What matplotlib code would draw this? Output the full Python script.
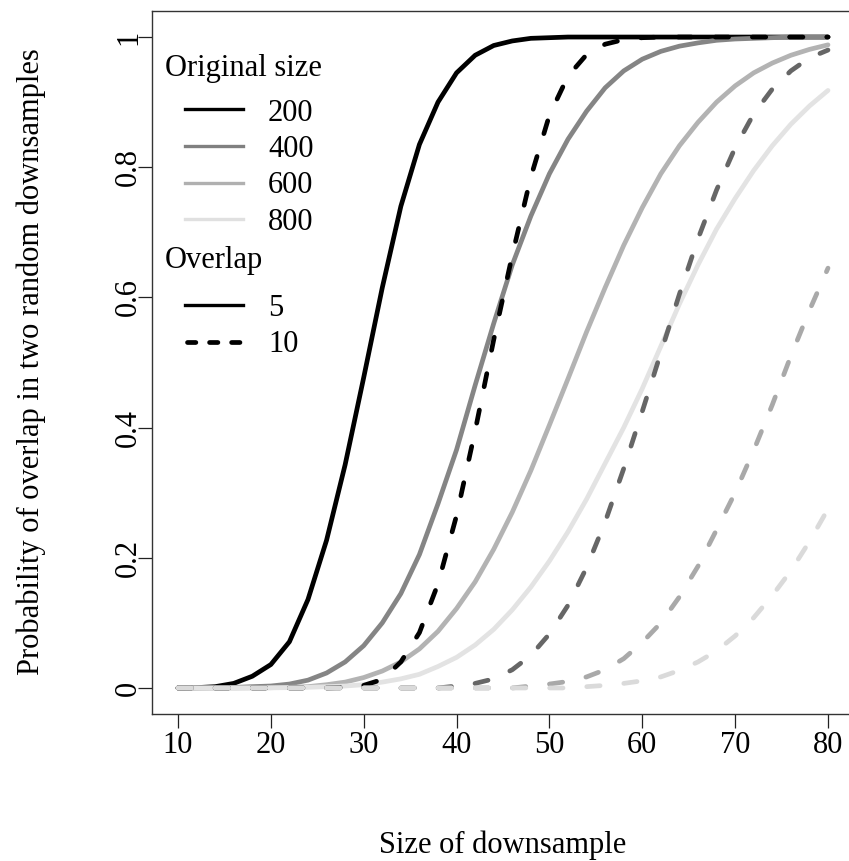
import matplotlib
matplotlib.use('Agg')
import matplotlib.pyplot as plt
from matplotlib.lines import Line2D

plt.rcParams['font.family'] = ['Liberation Serif', 'DejaVu Serif']

# Size of downsample (x)
sizes = list(range(10, 81, 2))
orig_sizes = ['200', '400', '600', '800']
overlap_labels = ['5', '10']

# Overlap >= 5 (solid)
p_200_k5 = [0.0, 0.0005, 0.002, 0.007, 0.018, 0.036, 0.071, 0.136, 0.227, 0.343,
            0.477, 0.615, 0.74, 0.835, 0.90, 0.945, 0.972, 0.987, 0.994, 0.998,
            0.999, 1.0, 1.0, 1.0, 1.0, 1.0, 1.0, 1.0, 1.0, 1.0,
            1.0, 1.0, 1.0, 1.0, 1.0, 1.0]
p_400_k5 = [0.0, 0.0, 0.0003, 0.0008, 0.002, 0.003, 0.006, 0.012, 0.023, 0.04,
            0.065, 0.10, 0.145, 0.205, 0.283, 0.366, 0.465, 0.56, 0.65, 0.725,
            0.79, 0.843, 0.886, 0.922, 0.948, 0.966, 0.978, 0.986, 0.991, 0.995,
            0.997, 0.998, 0.999, 1.0, 1.0, 1.0]
p_600_k5 = [0.0, 0.0, 0.0, 0.0, 0.0002, 0.0004, 0.001, 0.002, 0.005, 0.009,
            0.016, 0.026, 0.04, 0.06, 0.087, 0.122, 0.163, 0.213, 0.27, 0.334,
            0.404, 0.475, 0.547, 0.615, 0.68, 0.738, 0.79, 0.833, 0.869, 0.90,
            0.925, 0.945, 0.96, 0.972, 0.981, 0.988]
p_800_k5 = [0.0, 0.0, 0.0, 0.0, 0.0, 0.0002, 0.0005, 0.001, 0.002, 0.003,
            0.005, 0.009, 0.014, 0.021, 0.033, 0.047, 0.066, 0.09, 0.12, 0.155,
            0.195, 0.24, 0.29, 0.345, 0.40, 0.46, 0.525, 0.59, 0.65, 0.705,
            0.752, 0.795, 0.833, 0.866, 0.894, 0.918]

# Overlap >= 10 (dashed)
p_200_k10 = [0.0, 0.0, 0.0, 0.0, 0.0, 0.0, 0.0, 0.0, 0.0, 0.001,
             0.004, 0.013, 0.04, 0.085, 0.16, 0.265, 0.395, 0.535, 0.665, 0.785,
             0.88, 0.94, 0.973, 0.989, 0.996, 0.999, 1.0, 1.0, 1.0, 1.0,
             1.0, 1.0, 1.0, 1.0, 1.0, 1.0]
p_400_k10 = [0.0, 0.0, 0.0, 0.0, 0.0, 0.0, 0.0, 0.0, 0.0, 0.0,
             0.0, 0.0, 0.0, 0.0, 0.0, 0.003, 0.007, 0.014, 0.028, 0.05,
             0.083, 0.127, 0.185, 0.255, 0.337, 0.425, 0.515, 0.605, 0.69, 0.765,
             0.83, 0.882, 0.92, 0.948, 0.968, 0.98]
p_600_k10 = [0.0, 0.0, 0.0, 0.0, 0.0, 0.0, 0.0, 0.0, 0.0, 0.0,
             0.0, 0.0, 0.0, 0.0, 0.0, 0.0, 0.0, 0.0, 0.0, 0.003,
             0.006, 0.01, 0.017, 0.028, 0.045, 0.07, 0.10, 0.14, 0.187, 0.243,
             0.30, 0.365, 0.435, 0.51, 0.58, 0.645]
p_800_k10 = [0.0, 0.0, 0.0, 0.0, 0.0, 0.0, 0.0, 0.0, 0.0, 0.0,
             0.0, 0.0, 0.0, 0.0, 0.0, 0.0, 0.0, 0.0, 0.0, 0.0,
             0.0, 0.0, 0.002, 0.004, 0.007, 0.011, 0.017, 0.027, 0.04, 0.057,
             0.08, 0.108, 0.142, 0.18, 0.225, 0.275]

solid_series = [p_200_k5, p_400_k5, p_600_k5, p_800_k5]
dashed_series = [p_200_k10, p_400_k10, p_600_k10, p_800_k10]

solid_colors = ['#000000', '#858585', '#b3b3b3', '#e3e3e3']
dashed_colors = ['#000000', '#666666', '#a9a9a9', '#dadada']
legend_colors = ['#000000', '#808080', '#b0b0b0', '#e0e0e0']

W, H = 849, 861
fig = plt.figure(figsize=(W / 100, H / 100), dpi=100)
ax = fig.add_axes([152 / W, 1 - 714 / H, 702 / W, 703 / H])
ax.set_xlim(7.2, 82.8)
ax.set_ylim(-0.04, 1.04)

LW = 3.4
for vals, c in zip(solid_series, solid_colors):
    ax.plot(sizes, vals, color=c, lw=LW, solid_capstyle='round',
            solid_joinstyle='round')
for vals, c in zip(dashed_series, dashed_colors):
    ax.plot(sizes, vals, color=c, lw=LW, linestyle=(0, (2.83, 5.04)),
            dash_capstyle='round', dash_joinstyle='round')

ax.set_xticks(list(range(10, 81, 10)))
ax.set_yticks([0, 0.2, 0.4, 0.6, 0.8, 1.0])
ax.set_yticklabels(['0', '0.2', '0.4', '0.6', '0.8', '1'])
ax.tick_params(axis='both', length=10, width=0.9, labelsize=22,
               direction='out', color='#222222')
ax.tick_params(axis='x', pad=2.5)
ax.tick_params(axis='y', pad=-3.5, labelrotation=90)
for lab in ax.get_yticklabels():
    lab.set_verticalalignment('center')

for s in ax.spines.values():
    s.set_color('#333333')
    s.set_linewidth(1.0)

def fx(px):
    return px / W

def fy(py):
    return 1 - py / H

fig.text(fx(503), fy(853), 'Size of downsample', ha='center', va='baseline',
         fontsize=22)
fig.text(fx(31), fy(362), 'Probability of overlap in two random downsamples',
         ha='center', va='center', rotation=90, fontsize=22)

# Legend
fig.text(fx(165), fy(76), 'Original size', ha='left', va='baseline', fontsize=22)
leg_y = [109, 146, 183, 219]
leg_base = [121, 157, 193, 230]
for lbl, c, ly, lb in zip(orig_sizes, legend_colors, leg_y, leg_base):
    fig.add_artist(Line2D([fx(185), fx(243)], [fy(ly), fy(ly)], color=c,
                          lw=2.4, transform=fig.transFigure))
    fig.text(fx(268), fy(lb), lbl, ha='left', va='baseline', fontsize=22)

fig.text(fx(165), fy(268), 'Overlap', ha='left', va='baseline', fontsize=22)
fig.add_artist(Line2D([fx(185), fx(243)], [fy(305), fy(305)], color='black',
                      lw=2.4, transform=fig.transFigure))
fig.text(fx(268), fy(316), overlap_labels[0], ha='left', va='baseline', fontsize=22)
fig.add_artist(Line2D([fx(187), fx(241)], [fy(342), fy(342)], color='black',
                      lw=3.4, linestyle=(0, (1.77, 2.9)), dash_capstyle='round',
                      transform=fig.transFigure))
fig.text(fx(268), fy(352), overlap_labels[1], ha='left', va='baseline', fontsize=22)

fig.savefig('out.png', dpi=100)
